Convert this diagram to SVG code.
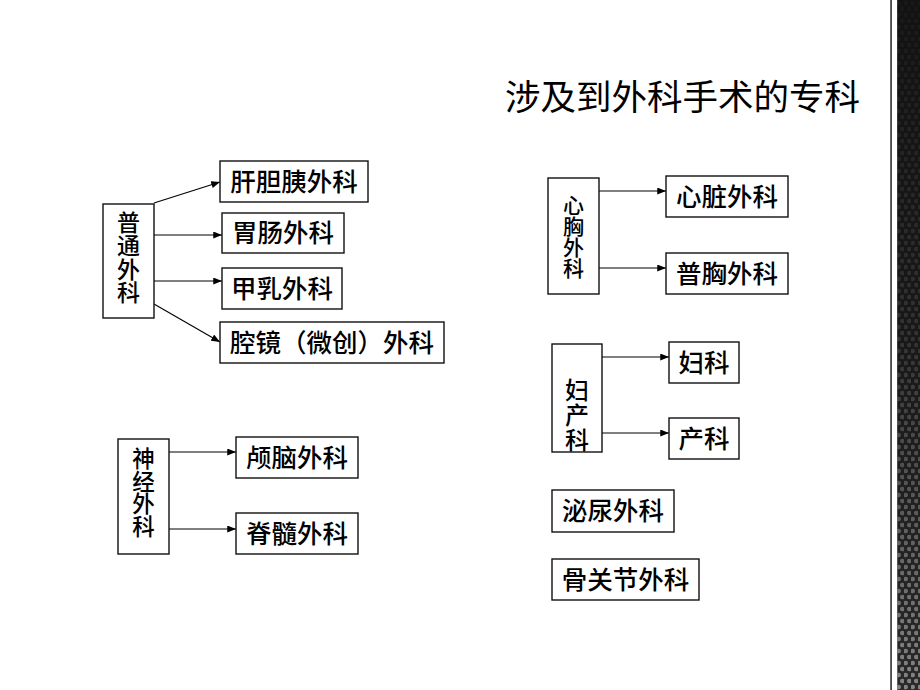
<svg xmlns="http://www.w3.org/2000/svg" width="920" height="690" viewBox="0 0 920 690">
<defs>
<style>
.box{fill:#fff;stroke:#111;stroke-width:1.4}
.t{font-family:"Noto Sans CJK SC","Noto Sans CJK JP",sans-serif;font-size:25.5px;font-weight:500;fill:#000;text-anchor:middle}
.v{font-family:"Noto Sans CJK SC","Noto Sans CJK JP",sans-serif;font-weight:500;fill:#000;text-anchor:middle;writing-mode:vertical-rl;text-orientation:upright}
.c{stroke:#000;stroke-width:1.1;fill:none;marker-end:url(#ah)}
</style>
<marker id="ah" viewBox="0 0 10 8" refX="10" refY="4" markerWidth="9" markerHeight="7" markerUnits="userSpaceOnUse" orient="auto">
<path d="M0,0 L10,4 L0,8 Z" fill="#000"/>
</marker>
<pattern id="dots" width="7" height="12" patternUnits="userSpaceOnUse" x="897">
<circle cx="1.75" cy="3" r="2.3" fill="#9a9a9a"/>
<circle cx="5.25" cy="9" r="2.3" fill="#9a9a9a"/>
</pattern>
<linearGradient id="shade" x1="0" y1="0" x2="0" y2="1">
<stop offset="0" stop-color="#111" stop-opacity="0.95"/>
<stop offset="0.5" stop-color="#111" stop-opacity="0.75"/>
<stop offset="1" stop-color="#111" stop-opacity="0.15"/>
</linearGradient>
</defs>
<rect width="920" height="690" fill="#fff"/>
<g id="edge">
<rect x="890.3" y="0" width="1.5" height="690" fill="#222"/>
<rect x="897.3" y="0" width="22.7" height="690" fill="#2e2e2e"/>
<rect x="897.3" y="0" width="22.7" height="690" fill="url(#dots)"/>
<rect x="897.3" y="0" width="22.7" height="690" fill="url(#shade)"/>
</g>
<g id="title">
<text x="505" y="110" font-family="Noto Sans CJK SC, Noto Sans CJK JP, sans-serif" font-size="35.5" fill="#000">涉及到外科手术的专科</text>
</g>
<g id="connectors">
<line class="c" x1="154" y1="203" x2="220" y2="182"/>
<line class="c" x1="154" y1="235" x2="222" y2="235"/>
<line class="c" x1="154" y1="281" x2="222" y2="281"/>
<line class="c" x1="154" y1="304" x2="220" y2="342"/>
<line class="c" x1="169" y1="452" x2="236" y2="452"/>
<line class="c" x1="169" y1="529" x2="236" y2="529"/>
<line class="c" x1="599" y1="191" x2="666" y2="191"/>
<line class="c" x1="599" y1="268" x2="666" y2="268"/>
<line class="c" x1="602" y1="357" x2="669" y2="357"/>
<line class="c" x1="602" y1="433" x2="669" y2="433"/>
</g>
<g id="n-putong">
<rect class="box" x="103" y="204" width="51" height="114"/>
<text class="v" font-size="23" letter-spacing="0.3" x="128.5" y="257.5">普通外科</text>
</g>
<g id="n-gandanyi">
<rect class="box" x="220" y="161" width="148" height="41"/>
<text class="t" x="294" y="191">肝胆胰外科</text>
</g>
<g id="n-weichang">
<rect class="box" x="222" y="213" width="122" height="40"/>
<text class="t" x="283" y="242">胃肠外科</text>
</g>
<g id="n-jiaru">
<rect class="box" x="222" y="268" width="120" height="41"/>
<text class="t" x="282" y="298">甲乳外科</text>
</g>
<g id="n-qiangjing">
<rect class="box" x="220" y="322" width="224" height="41"/>
<text class="t" x="332" y="352">腔镜（微创）外科</text>
</g>
<g id="n-shenjing">
<rect class="box" x="118" y="439" width="51" height="115"/>
<text class="v" font-size="22.5" letter-spacing="0.2" x="143.5" y="492.5">神经外科</text>
</g>
<g id="n-lunao">
<rect class="box" x="236" y="437" width="122" height="41"/>
<text class="t" x="297" y="467">颅脑外科</text>
</g>
<g id="n-jisui">
<rect class="box" x="236" y="513" width="122" height="41"/>
<text class="t" x="297" y="543">脊髓外科</text>
</g>
<g id="n-xinxiong">
<rect class="box" x="548" y="178" width="51" height="116"/>
<text class="v" font-size="21" x="573.5" y="236.5">心胸外科</text>
</g>
<g id="n-xinzang">
<rect class="box" x="666" y="176" width="122" height="41"/>
<text class="t" x="727" y="206">心脏外科</text>
</g>
<g id="n-puxiong">
<rect class="box" x="666" y="253" width="122" height="41"/>
<text class="t" x="727" y="283">普胸外科</text>
</g>
<g id="n-fuchan">
<rect class="box" x="552" y="344" width="50" height="108"/>
<text class="v" font-size="24" letter-spacing="1" x="577" y="415">妇产科</text>
</g>
<g id="n-fuke">
<rect class="box" x="669" y="342" width="70" height="41"/>
<text class="t" x="704" y="372">妇科</text>
</g>
<g id="n-chanke">
<rect class="box" x="669" y="418" width="70" height="41"/>
<text class="t" x="704" y="448">产科</text>
</g>
<g id="n-miniao">
<rect class="box" x="552" y="490" width="122" height="42"/>
<text class="t" x="613" y="520">泌尿外科</text>
</g>
<g id="n-guguanjie">
<rect class="box" x="552" y="559" width="147" height="41"/>
<text class="t" x="625.5" y="589">骨关节外科</text>
</g>
</svg>
